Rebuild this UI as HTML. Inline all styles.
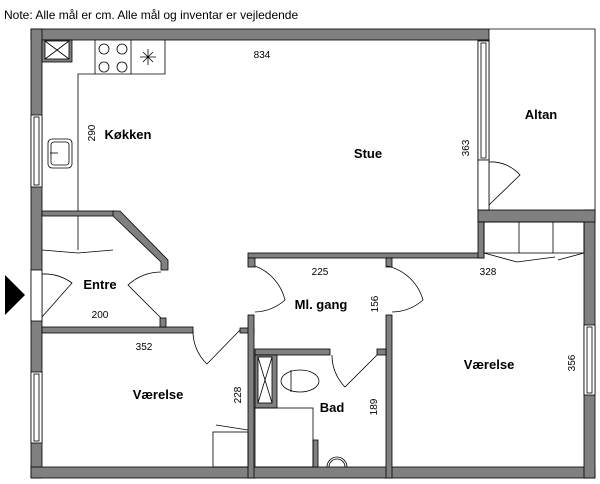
<!DOCTYPE html>
<html><head><style>
body{margin:0;background:#fff;width:600px;height:484px;overflow:hidden}
svg{display:block}
text{font-family:"Liberation Sans",sans-serif;fill:#000}
.l{font-size:13px;font-weight:bold;text-anchor:middle}
.d{font-size:10px;text-anchor:middle}
</style></head><body>
<svg width="600" height="484" viewBox="0 0 600 484">
<text x="4" y="19" style="font-size:12px">Note: Alle mål er cm. Alle mål og inventar er vejledende</text>
<g fill="#808080" stroke="#000" stroke-width="0.8">
<rect x="31" y="29" width="458" height="11"/>
<rect x="31" y="29" width="11" height="449"/>
<rect x="31" y="467" width="564" height="11"/>
<rect x="584" y="210" width="11" height="268"/>
<rect x="478" y="40" width="11" height="182"/>
<rect x="478" y="210" width="117" height="12"/>
<rect x="42" y="211" width="73" height="5"/>
<polygon points="113,211 120,211 168,260 168,270 161,270 161,262 113,216"/>
<rect x="42" y="327" width="151" height="6"/>
<rect x="160" y="318" width="6" height="9"/>
<rect x="240" y="328" width="14" height="5"/>
<rect x="248" y="315" width="6" height="163"/>
<rect x="248" y="253" width="236" height="5"/>
<rect x="478" y="222" width="6" height="36"/>
<rect x="248" y="258" width="7" height="9"/>
<rect x="386" y="258" width="6" height="9"/>
<rect x="386" y="315" width="6" height="163"/>
<rect x="255" y="349" width="75" height="6"/>
<rect x="377" y="349" width="9" height="6"/>
<rect x="255" y="355" width="22" height="53"/>
<rect x="313" y="440" width="5" height="27"/>
</g>
<g fill="#fff" stroke="#000" stroke-width="0.8">
<rect x="31" y="270" width="11" height="51"/>
<rect x="31" y="115" width="11" height="72"/>
<rect x="34" y="117" width="5" height="68"/>
<rect x="31" y="372" width="11" height="71"/>
<rect x="34" y="374" width="5" height="67"/>
<rect x="478" y="41" width="11" height="119"/>
<rect x="481" y="43" width="5" height="115"/>
<rect x="478" y="160" width="11" height="50"/>
<rect x="584" y="325" width="11" height="70"/>
<rect x="587" y="327" width="5" height="66"/>
<rect x="258" y="357" width="14" height="46"/>
</g>
<g fill="none" stroke="#000" stroke-width="0.8">
<path d="M258,357 L272,403 M272,357 L258,403"/>
<polyline points="489,29 595,29 595,210"/>
<path d="M489,162 A38 38 0 0 1 520,175 L489,205"/>
<rect x="42" y="40" width="30" height="22" fill="#808080"/>
<rect x="45" y="41" width="24" height="18" fill="#fff"/>
<path d="M45,41 L69,59 M69,41 L45,59"/>
<polyline points="78,211 78,74 165,74 165,40"/>
<line x1="131" y1="40" x2="131" y2="74"/><line x1="95" y1="40" x2="95" y2="74"/>
<circle cx="104" cy="49" r="5"/><circle cx="122" cy="49" r="5"/><circle cx="104" cy="67" r="5"/><circle cx="122" cy="67" r="5"/>
<path d="M140,57 h16 M148,49 v16 M143,52 l10,10 M153,52 l-10,10"/>
<rect x="48" y="139" width="24" height="29" rx="4"/>
<rect x="51" y="142" width="18" height="23" rx="3"/>
<path d="M50,153 h8"/>
<line x1="78" y1="216" x2="78" y2="250"/>
<path d="M42,250 L78,253 L113,250"/>
<path d="M42,274 A48 48 0 0 1 72,283 L42,317"/>
<path d="M161,272 A48 48 0 0 0 128,285 L161,318"/>
<path d="M193,330 A45 45 0 0 0 207,364 L240,330"/>
<path d="M255,266 A48 48 0 0 1 285,300 A48 48 0 0 1 255,312"/>
<path d="M387,266 A48 48 0 0 1 423,300 A48 48 0 0 1 392,312"/>
<path d="M332,355 A45 45 0 0 0 345,387 L377,355"/>
<rect x="213" y="432" width="35" height="35"/>
<line x1="216" y1="425" x2="248" y2="430"/>
<rect x="255" y="408" width="58" height="59"/>
<ellipse cx="300" cy="381" rx="19" ry="11"/>
<line x1="291" y1="370" x2="291" y2="392"/>
<path d="M327,467 A10 10 0 1 1 347,467"/>
<path d="M329,467 A8 8 0 1 1 345,467"/>
<rect x="484" y="222" width="100" height="31"/>
<line x1="519" y1="222" x2="519" y2="253"/><line x1="553" y1="222" x2="553" y2="253"/>
<path d="M484,253 L517,262 L555,257 M558,260 L584,253"/>
</g>
<polygon points="5,275 25,295 5,315" fill="#000"/>
<text class="l" x="128" y="139">Køkken</text>
<text class="l" x="368" y="158">Stue</text>
<text class="l" x="541" y="119">Altan</text>
<text class="l" x="100" y="289">Entre</text>
<text class="l" x="158" y="399">Værelse</text>
<text class="l" x="321" y="309">Ml. gang</text>
<text class="l" x="332" y="412">Bad</text>
<text class="l" x="489" y="369">Værelse</text>
<text class="d" x="262" y="58">834</text>
<text class="d" x="100" y="318">200</text>
<text class="d" x="144" y="350">352</text>
<text class="d" x="320" y="275">225</text>
<text class="d" x="488" y="275">328</text>
<text class="d" transform="translate(95,133) rotate(-90)">290</text>
<text class="d" transform="translate(469,148) rotate(-90)">363</text>
<text class="d" transform="translate(241,395) rotate(-90)">228</text>
<text class="d" transform="translate(378,304) rotate(-90)">156</text>
<text class="d" transform="translate(377,407) rotate(-90)">189</text>
<text class="d" transform="translate(575,363) rotate(-90)">356</text>
</svg>
</body></html>
